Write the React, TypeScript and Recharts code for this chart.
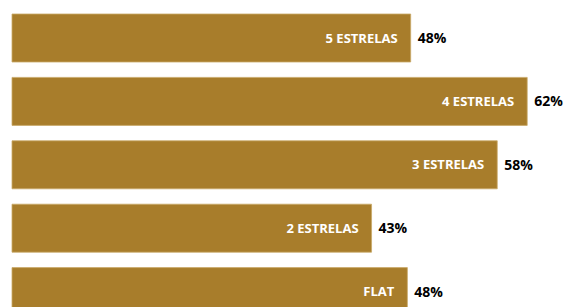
import React from 'react';
import { BarChart, Bar, XAxis, YAxis, LabelList } from 'recharts';

const categories = ['5 ESTRELAS', '4 ESTRELAS', '3 ESTRELAS', '2 ESTRELAS', 'FLAT'];
const values = [47.9, 61.9, 58.3, 43.2, 47.5];

const data = categories.map((name, i) => ({ name, value: values[i] }));

const FONT = '"Open Sans", "DejaVu Sans", sans-serif';

export default function App() {
  return (
    <div style={{ position: 'absolute', left: 0, top: 0 }}>
      <BarChart
        width={563}
        height={323}
        layout="vertical"
        data={data}
        margin={{ top: 6, right: 10, left: 12, bottom: 0 }}
        style={{ fontFamily: FONT }}
      >
        <XAxis type="number" domain={[0, 65]} hide />
        <YAxis type="category" dataKey="name" hide />
        <Bar
          dataKey="value"
          fill="#A87D2B"
          stroke="#C9A968"
          strokeWidth={0.8}
          barSize={48}
          isAnimationActive={false}
        >
          <LabelList
            dataKey="name"
            position="insideRight"
            offset={13}
            fill="#FFFFFF"
            fontSize={13}
            fontWeight={700}
            fontFamily={FONT}
          />
          <LabelList
            dataKey="value"
            position="right"
            offset={7}
            formatter={(v: number) => `${Math.round(v)}%`}
            fill="#000000"
            fontSize={14}
            fontWeight={700}
            fontFamily={FONT}
          />
        </Bar>
      </BarChart>
    </div>
  );
}
